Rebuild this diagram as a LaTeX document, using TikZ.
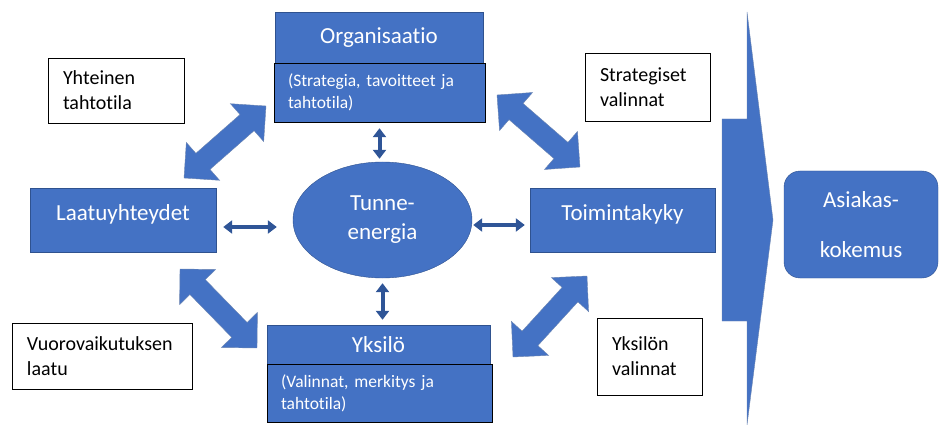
\documentclass[tikz,border=0pt]{standalone}
\usepackage{fontspec}
\setmainfont{Carlito}[Ligatures=NoCommon]
\usetikzlibrary{calc,shapes.geometric,shapes.arrows,arrows.meta}

\definecolor{boxblue}{HTML}{4472C4}
\definecolor{boxedge}{HTML}{2F528F}
\definecolor{thinblue}{HTML}{2F5597}

\newcommand{\blockarrow}[2]{%
  \path let \p1=($(#2)-(#1)$) in
    node[bigarrow, minimum height={veclen(\x1,\y1)}, rotate={atan2(\y1,\x1)}]
      at ($(#1)!0.5!(#2)$) {};}

\begin{document}
\begin{tikzpicture}[
  x=1pt, y=-1pt,
  bluebox/.style={draw=boxedge, fill=boxblue, text=white, inner sep=0pt,
                  font=\fontsize{23}{29}\selectfont},
  subbox/.style={draw=black, fill=boxblue, text=white, align=left,
                 inner xsep=14pt, font=\fontsize{17.5}{22}\selectfont},
  note/.style={draw=black, line width=0.8pt, fill=white, align=left,
               inner xsep=15pt, font=\fontsize{20}{25}\selectfont},
  bigarrow/.style={double arrow, draw=boxedge!70, fill=boxblue, inner xsep=0pt,
                   inner ysep=10.5pt, minimum width=1pt,
                   double arrow head extend=14.5pt},
  dblarr/.style={{Triangle[width=13pt,length=9pt]}-{Triangle[width=13pt,length=9pt]},
                 line width=4pt, draw=thinblue}
]
  \useasboundingbox (0,0) rectangle (940,425);

  \node[bluebox, minimum width=208pt, minimum height=51pt] (org) at (379,37.5) {Organisaatio};
  \node[subbox, text width=183pt, minimum height=59pt] (orgsub) at (379.5,92.5)
    {(Strategia, tavoitteet ja\\tahtotila)};
  \node[bluebox, minimum width=223pt, minimum height=39pt] (yks) at (378.5,344.5) {Yksilö};
  \node[subbox, text width=197pt, minimum height=58pt] (ykssub) at (379.5,393)
    {(Valinnat, merkitys ja\\tahtotila)};
  \node[bluebox, ellipse, align=center, minimum width=179pt, minimum height=116pt]
    (tunne) at (382.5,220) {Tunne-\\energia};
  \node[bluebox, minimum width=186pt, minimum height=64pt, text height=14pt,
        text depth=14pt] (laatu) at (123,220) {Laatuyhteydet};
  \node[bluebox, minimum width=185pt, minimum height=64pt, text height=14pt,
        text depth=14pt] (toim) at (622.5,220) {Toimintakyky};
  \node[bluebox, rounded corners=16pt, align=center, minimum width=154pt,
        minimum height=107pt, font=\fontsize{23}{50}\selectfont]
    (asiakas) at (861,224.5) {Asiakas-\\kokemus};

  \node[note, text width=106pt, minimum height=65pt] (yht) at (116,90.5)
    {Yhteinen\\tahtotila};
  \node[note, text width=95pt, minimum height=68pt] (strat) at (647.5,87)
    {Strategiset\\valinnat};
  \node[note, text width=150pt, minimum height=66pt] (vuoro) at (102,356)
    {Vuorovaikutuksen\\laatu};
  \node[note, text width=75pt, minimum height=77pt] (ykv) at (649.5,356.5)
    {Yksilön\\valinnat};

  \fill[boxblue, draw=boxedge!70] (722,119) -- (747,119) -- (747,12) -- (773,220)
    -- (747,425) -- (747,321) -- (722,321) -- cycle;

  \coordinate (tl1) at (184,178);
  \coordinate (tl2) at (266,106);
  \coordinate (tr1) at (497,95);
  \coordinate (tr2) at (580,167);
  \coordinate (bl1) at (180,269);
  \coordinate (bl2) at (257,348);
  \coordinate (br1) at (513,357);
  \coordinate (br2) at (587,276);
  \blockarrow{tl1}{tl2}
  \blockarrow{tr1}{tr2}
  \blockarrow{bl1}{bl2}
  \blockarrow{br1}{br2}

  \draw[dblarr, shorten <=6pt, shorten >=3pt] (orgsub.south) -- (orgsub.south |- tunne.north);
  \draw[dblarr, shorten <=5pt, shorten >=5pt] (tunne.south) -- (tunne.south |- yks.north);
  \draw[dblarr, shorten <=7pt, shorten >=16pt] ([yshift=-7pt]laatu.east) -- ([yshift=-7pt]laatu.east -| tunne.west);
  \draw[dblarr, shorten <=1pt, shorten >=5pt] ([yshift=-5pt]tunne.east) -- ([yshift=-5pt]tunne.east -| toim.west);
\end{tikzpicture}
\end{document}
